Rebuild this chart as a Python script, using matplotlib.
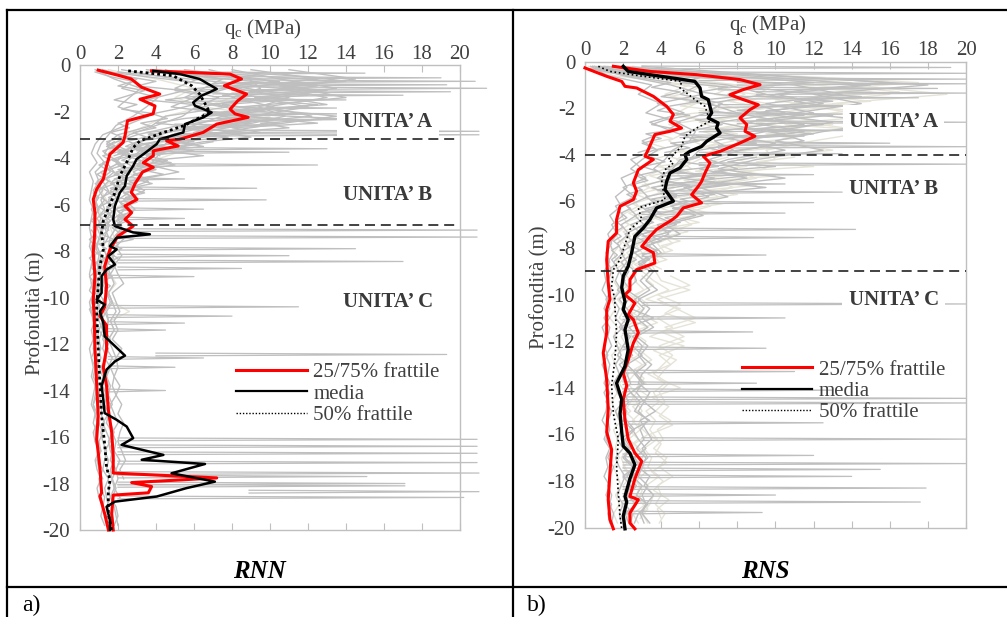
import numpy as np
import matplotlib
matplotlib.use("Agg")
import matplotlib.pyplot as plt
from matplotlib.lines import Line2D

plt.rcParams['font.family'] = ['Liberation Serif', 'DejaVu Serif']
plt.rcParams['mathtext.fontset'] = 'custom'
plt.rcParams['mathtext.rm'] = 'Liberation Serif'
plt.rcParams['axes.unicode_minus'] = False

# ---------------------------------------------------------------------------
# dati: profili statistici (profondità in m, qc in MPa)
# ---------------------------------------------------------------------------
# RNN
rnn_q25_z = [0.22, 0.46, 0.6, 0.96, 1.25, 1.47, 1.76, 2.1, 2.4, 3.05, 3.33, 3.83, 4.34, 4.9, 5.34,
             5.78, 6.35, 7.07, 8.07, 9.07, 10.1, 10.8, 12.2, 13.7, 15.1, 16.1, 17.3, 18.4, 18.55,
             19.3, 20.0]
rnn_q25_v = [0.96, 2.1, 2.7, 3.25, 4.2, 3.16, 3.95, 3.85, 2.5, 2.37, 2.27, 1.58, 1.4, 1.23, 0.88,
             0.7, 0.79, 0.79, 0.7, 0.79, 0.7, 0.75, 0.79, 0.88, 0.96, 0.88, 1.05, 1.14, 1.05,
             1.3, 1.5]
rnn_q75_z = [0.25, 0.39, 0.6, 0.89, 1.25, 1.54, 1.9, 2.1, 2.25, 2.54, 2.9, 3.19, 3.26, 3.48, 3.69,
             3.9, 4.2, 4.4, 4.6, 5.1, 5.48, 5.78, 6.06, 6.35, 6.64, 6.93, 7.36, 7.93, 8.65, 9.5,
             10.4, 10.8, 11.2, 12.2, 13.0, 13.8, 14.8, 15.8, 16.8, 17.55, 17.76, 17.96, 18.13,
             18.4, 18.5, 19.3, 20.0]
rnn_q75_v = [3.77, 7.9, 8.5, 7.6, 8.77, 8.3, 7.9, 8.16, 8.85, 7.2, 6.48, 5.26, 4.56, 5.17, 3.86,
             3.86, 3.33, 3.86, 3.3, 2.9, 2.7, 3.0, 2.37, 2.72, 2.37, 2.8, 2.0, 1.58, 1.3, 1.4,
             1.3, 1.05, 1.4, 1.4, 1.23, 1.4, 1.49, 1.67, 1.75, 1.75, 7.2, 2.72, 3.77,
             3.6, 1.75, 1.67, 1.75]
rnn_mean_z = [0.25, 0.39, 0.6, 1.03, 1.32, 1.61, 1.75, 2.04, 2.25, 2.54, 2.9, 3.19, 3.4, 3.84,
              4.05, 4.34, 4.77, 5.2, 5.49, 6.06, 6.64, 6.93, 7.2, 7.28, 7.43, 7.79, 7.93, 8.22,
              8.58, 8.8, 9.08, 9.8, 10.09, 10.3, 10.6, 11.1, 11.67, 12.5, 12.75, 13.1, 13.8,
              14.4, 14.97, 15.26, 15.55, 16.05, 16.34, 16.77, 16.98, 17.16, 17.56, 17.92, 18.2,
              18.56, 18.78, 19.0, 19.57, 20.0]
rnn_mean_v = [3.86, 5.26, 6.3, 7.2, 6.4, 5.96, 6.05, 6.93, 6.5, 5.53, 5.44, 4.2, 4.04, 3.33,
              2.98, 2.8, 2.46, 2.37, 2.1, 1.84, 1.75, 1.84, 2.8, 3.68, 1.93, 1.58, 1.93, 1.49,
              1.84, 1.4, 1.14, 1.14, 0.88, 1.3, 1.05, 1.23, 1.3, 2.37, 1.84, 1.4, 1.14,
              1.23, 1.3, 1.93, 2.46, 2.8, 2.19, 4.39, 3.25, 6.58, 4.82, 7.1, 5.6,
              4.04, 1.84, 1.4, 1.58, 1.58]
rnn_q50_z = [0.25, 0.46, 0.89, 1.25, 1.4, 2.04, 2.4, 2.6, 2.9, 3.26, 3.55, 4.05, 4.77, 5.49, 6.35,
             6.7, 7.2, 7.93, 8.65, 9.5, 10.37, 10.6, 12.2, 13.7, 15.1, 16.3, 17.3, 17.84, 18.4,
             19.3, 20.0]
rnn_q50_v = [2.54, 4.9, 5.88, 6.3, 6.4, 6.84, 5.96, 5.5, 4.4, 3.16, 2.8, 2.54, 2.1, 1.84, 1.4,
             1.23, 1.14, 1.23, 1.05, 0.96, 0.88, 0.88, 0.96, 1.05, 1.14, 1.3, 1.4, 1.58, 1.49,
             1.49, 1.67]

# RNS
rns_q25_z = [0.27, 0.63, 0.85, 1.06, 1.13, 1.49, 1.92, 2.27, 2.56, 2.85, 2.99, 3.13, 3.78, 4.06,
             4.2, 4.64, 5.2, 5.56, 5.92, 6.21, 6.78, 7.35, 7.71, 8.5, 9.5, 10.2, 10.64, 11.64,
             12.5, 13.65, 14.9, 15.9, 16.65, 17.65, 18.8, 19.65, 20.05]
rns_q25_v = [0.0, 1.14, 1.93, 2.1, 2.71, 3.59, 4.29, 4.64, 4.46, 5.07, 4.46, 3.67, 3.32, 3.15,
             3.59, 2.8, 2.54, 2.71, 2.54, 1.84, 1.66, 1.66, 1.22, 1.14, 1.22, 1.31, 1.14, 1.14,
             0.96, 1.14, 1.22, 1.14, 1.4, 1.31, 1.22, 1.31, 1.49]
rns_q75_z = [0.2, 0.42, 0.56, 0.77, 0.99, 1.2, 1.42, 1.63, 1.85, 2.06, 2.42, 2.7, 2.99, 3.2, 3.49,
             3.85, 4.06, 4.35, 4.78, 5.14, 5.35, 5.71, 6.06, 6.28, 6.64, 6.8, 7.2, 7.5, 7.93,
             8.2, 8.64, 8.93, 9.36, 9.8, 10.0, 10.36, 10.86, 11.07, 11.64, 12.07, 12.8, 13.36,
             13.9, 14.5, 15.36, 16.2, 16.8, 17.15, 17.9, 18.66, 18.8, 19.37, 19.8, 20.05]
rns_q75_v = [1.49, 3.41, 5.86, 8.14, 9.19, 8.31, 7.61, 8.31, 9.1, 8.66, 8.14, 8.49, 8.4, 8.92, 8.14,
             7.09, 6.21, 6.56, 6.3, 6.12, 5.95, 5.6, 6.12, 5.16, 4.81, 4.55, 3.76, 3.41, 2.98,
             3.59, 3.67, 2.71, 2.36, 2.36, 2.1, 2.62, 2.27, 2.54, 2.8, 2.54, 2.27, 2.01,
             2.19, 2.01, 2.1, 2.27, 2.62, 2.98, 2.62, 2.36, 2.8, 2.36, 2.36, 2.62]
rns_mean_z = [0.2, 0.42, 0.56, 0.77, 0.85, 1.13, 1.49, 1.63, 1.92, 2.2, 2.42, 2.63, 2.85, 3.06,
              3.42, 3.64, 3.85, 3.99, 4.2, 4.56, 4.78, 5.14, 5.49, 5.99, 6.28, 6.78, 7.14, 7.5,
              8.2, 8.78, 9.2, 9.7, 10.3, 10.64, 11.07, 11.5, 12.36, 13.07, 13.8, 14.5, 15.1,
              15.9, 16.5, 16.8, 17.3, 17.9, 18.66, 18.9, 19.5, 20.05]
rns_mean_v = [2.01, 2.27, 3.41, 5.16, 5.77, 6.04, 6.12, 6.47, 6.56, 6.65, 6.47, 6.99, 6.91, 7.09,
              6.39, 6.12, 5.51, 5.25, 5.34, 4.99, 4.46, 4.29, 4.2, 4.64, 3.76, 3.41, 3.06, 2.62,
              2.45, 2.27, 2.01, 1.93, 2.1, 2.01, 2.27, 2.1, 2.27, 2.1, 1.66, 1.93, 1.84,
              1.93, 2.01, 2.36, 2.62, 2.36, 2.1, 2.19, 2.01, 2.1]
rns_q50_z = [0.2, 0.42, 0.63, 0.85, 1.13, 1.35, 1.63, 1.92, 2.56, 2.85, 3.2, 3.64, 3.99, 4.2, 4.35,
             4.64, 5.06, 5.56, 5.92, 6.28, 6.78, 7.2, 8.07, 8.5, 8.93, 9.64, 10.2, 10.5, 11.64,
             12.8, 13.9, 15.1, 16.2, 17.4, 18.5, 19.5, 20.05]
rns_q50_v = [0.7, 1.31, 3.06, 5.07, 4.99, 5.34, 5.77, 6.3, 6.56, 5.86, 5.25, 5.07, 4.64, 4.37, 4.64,
             4.2, 4.02, 4.11, 4.2, 2.8, 2.98, 2.36, 2.01, 1.84, 1.49, 1.4, 1.57, 1.57, 1.66,
             1.57, 1.4, 1.49, 1.75, 1.66, 1.75, 1.84, 1.93]

# singole prove CPT, gruppo 1: qc ogni 0.4 m a partire da 0.2 m
rnn_gray = [
    [1.2, 3.0, 2.2, 4.1, 3.5, 2.8, 1.9, 1.5, 1.1, 0.9, 1.3, 0.8, 1.0, 0.7, 0.9, 0.6, 0.8,
     0.7, 0.9, 0.6, 0.8, 0.7, 0.9, 0.6, 0.7, 0.8, 0.6, 0.7, 0.9, 0.7, 0.8, 0.6, 0.8, 0.7, 0.9,
     0.8, 0.7, 0.8, 0.9, 0.7, 0.8, 1.0, 0.8, 0.9, 1.1, 0.9, 1.0, 1.2, 1.1, 1.3],
    [4.5, 6.2, 5.0, 7.3, 6.1, 5.4, 4.0, 2.6, 2.0, 1.6, 1.4, 1.8, 1.2, 1.5, 1.1, 1.3, 0.9,
     1.2, 1.0, 0.9, 1.1, 1.0, 0.8, 1.0, 0.9, 1.1, 0.9, 1.0, 1.2, 1.0, 1.1, 0.9, 1.0, 1.2, 1.1,
     1.0, 1.2, 1.1, 1.3, 1.1, 1.2, 1.4, 1.3, 1.2, 1.5, 1.3, 1.4, 1.5, 1.4, 1.6],
    [6.8, 8.9, 9.5, 8.0, 10.2, 7.5, 6.0, 4.2, 2.8, 2.3, 1.9, 2.5, 1.7, 2.0, 1.5, 1.8, 1.4,
     1.5, 1.3, 1.2, 1.4, 1.1, 1.3, 1.2, 1.0, 1.3, 1.1, 1.2, 1.0, 1.3, 1.2, 1.4, 1.1, 1.3, 1.2,
     1.4, 1.3, 1.5, 1.2, 1.4, 1.6, 1.3, 1.5, 1.4, 1.7, 1.5, 1.6, 1.4, 1.7, 1.8],
    [9.0, 12.5, 8.2, 11.0, 9.4, 10.8, 8.5, 5.5, 3.6, 3.0, 2.4, 3.3, 2.1, 2.7, 2.0, 2.4, 1.8,
     1.9, 1.6, 1.5, 1.8, 1.4, 1.6, 1.3, 1.5, 1.7, 1.4, 1.5, 1.3, 1.6, 1.4, 1.7, 1.5, 1.4, 1.6,
     1.5, 1.7, 1.4, 1.6, 1.8, 1.5, 1.7, 1.6, 1.9, 1.7, 1.8, 1.6, 1.9, 2.0, 1.8],
    [2.2, 5.0, 7.8, 6.0, 4.8, 8.8, 5.2, 3.0, 1.6, 1.3, 2.1, 1.1, 1.5, 1.0, 1.3, 0.9, 1.1,
     0.9, 1.1, 0.8, 1.0, 0.9, 1.1, 0.8, 1.0, 0.9, 1.1, 0.8, 1.0, 0.9, 1.0, 1.1, 0.9, 1.0, 0.8,
     1.0, 1.1, 0.9, 1.0, 1.2, 1.0, 1.1, 0.9, 1.2, 1.0, 1.1, 1.3, 1.2],
    [11.0, 14.5, 10.5, 13.0, 9.8, 12.2, 7.0, 4.8, 4.5, 3.8, 3.1, 5.2, 2.6, 3.4, 2.3, 2.9, 2.0,
     2.2, 1.8, 2.0, 1.7, 1.9, 1.6, 1.8, 1.5, 1.7, 1.9, 1.6, 1.8, 1.5, 1.7, 1.9, 1.6, 1.8, 1.7,
     1.9, 1.6, 1.8, 2.0, 1.7, 1.9, 1.8, 2.1, 1.9, 2.0, 1.8, 2.1],
    [3.5, 7.5, 6.5, 5.5, 7.8, 4.5, 3.8, 2.0, 1.4, 2.6, 1.2, 1.6, 0.9, 1.2, 0.8, 1.0, 0.7,
     0.8, 0.7, 0.9, 0.6, 0.8, 0.7, 0.9, 0.7, 0.6, 0.8, 0.7, 0.9, 0.8, 0.7, 0.9, 0.8, 1.0, 0.8,
     0.9, 0.7, 0.9, 1.0, 0.8, 0.9, 1.1, 0.9, 1.0, 1.2],
    [8.0, 10.5, 13.5, 9.2, 12.0, 9.0, 7.2, 3.6, 5.8, 4.2, 3.8, 2.8, 3.6, 2.2, 3.0, 1.9, 2.4,
     1.7, 2.4, 1.9, 2.2, 1.8, 2.0, 2.3, 1.7, 1.9, 2.1, 1.8, 2.0, 1.7, 2.2, 1.9, 2.0, 1.8, 2.1,
     1.9, 2.2, 2.0, 2.3, 2.1, 2.0, 2.2, 2.4, 2.1, 2.3],
    [0.8, 1.8, 3.2, 2.6, 2.0, 3.6, 2.4, 1.2, 0.8, 0.6, 0.9, 0.5, 0.7, 0.6, 0.5, 0.7, 0.6,
     0.5, 0.6, 0.5, 0.7, 0.6, 0.5, 0.6, 0.7, 0.5, 0.6, 0.8, 0.6, 0.7, 0.5, 0.6, 0.7, 0.6, 0.8,
     0.7, 0.6, 0.8, 0.7, 0.9, 0.8],
    [5.5, 9.5, 11.5, 14.0, 8.5, 13.5, 9.8, 6.5, 3.2, 2.0, 4.8, 1.9, 2.4, 1.6, 2.0, 1.4, 1.7,
     1.3, 1.5, 1.2, 1.4, 1.3, 1.5, 1.2, 1.4, 1.6, 1.3, 1.5, 1.4, 1.2, 1.5, 1.3, 1.6, 1.4, 1.5,
     1.3, 1.6, 1.5, 1.4, 1.7, 1.5, 1.6, 1.8, 1.6, 1.7, 1.9, 1.7, 1.8, 1.9, 2.0],
]
rnn_beige = [
    [4.0, 7.0, 9.0, 8.0, 6.5, 10.0, 8.0, 6.0, 4.0, 5.0, 3.5, 2.6, 3.0, 2.2, 2.6, 1.8, 2.0,
     1.6, 1.8, 1.5, 1.7, 1.4, 1.6, 1.9, 1.5, 1.7, 2.6, 1.6, 1.8, 1.5],
    [1.5, 4.0, 6.0, 5.0, 6.5, 4.5, 3.5, 2.4, 1.8, 1.5, 2.0, 1.3, 1.6, 1.1, 1.4, 1.0, 1.2,
     1.0, 1.2, 0.9, 1.1, 1.0, 1.2, 0.9, 1.1],
]
# gruppo 2: tratti a passo 0.2 m (unità A da 0.3 m, unità B da 3.3 m, unità C da 7.1 m)
rnn_fine_a = [
    [2.0, 4.5, 7.0, 9.5, 6.0, 8.5, 11.0, 7.5, 9.0, 6.5, 10.5, 8.0, 5.5, 7.0, 4.5, 6.0, 3.5, 4.8, 3.0],
    [6.0, 10.0, 13.5, 9.0, 12.0, 8.5, 11.5, 13.0, 9.5, 7.0, 10.0, 12.5, 8.0, 9.5, 6.5, 5.0, 6.5, 4.0, 3.5],
    [1.0, 2.5, 4.0, 3.0, 5.5, 4.5, 3.5, 6.0, 5.0, 3.8, 4.6, 3.2, 4.0, 2.8, 3.5, 2.4, 2.0, 2.6, 1.8],
    [3.5, 6.5, 9.0, 12.5, 10.0, 7.5, 9.5, 6.8, 8.2, 11.0, 7.2, 9.0, 6.0, 8.5, 5.5, 4.2, 3.6, 4.5, 2.9],
    [8.0, 12.0, 14.0, 10.5, 13.0, 11.0, 9.0, 12.5, 10.0, 8.5, 13.5, 9.5, 11.0, 7.5, 9.0, 6.5, 5.0, 3.8, 4.2],
    [1.5, 3.5, 5.5, 7.5, 5.0, 6.5, 4.5, 7.0, 6.0, 8.0, 5.5, 4.0, 6.5, 3.5, 4.5, 3.0, 3.8, 2.5, 2.2],
    [4.5, 7.5, 10.5, 8.0, 9.5, 12.0, 8.5, 7.0, 10.0, 6.5, 8.5, 10.5, 7.0, 6.0, 7.8, 5.2, 4.0, 3.2, 3.9],
    [0.8, 1.6, 2.8, 2.0, 3.4, 2.6, 1.8, 3.0, 2.2, 4.0, 2.8, 2.0, 2.6, 1.6, 2.2, 1.4, 1.9, 1.2, 1.5],
]
rnn_fine_b = [
    [3.0, 2.4, 3.6, 2.8, 2.2, 3.2, 2.0, 2.6, 1.8, 2.4, 1.6, 2.1, 1.5, 1.9, 1.4, 1.7, 1.3, 1.6, 1.2, 1.5],
    [5.0, 4.2, 6.0, 3.5, 4.6, 3.2, 4.0, 2.8, 3.6, 2.5, 3.2, 2.3, 2.8, 2.1, 2.6, 2.0, 2.4, 1.9, 2.2, 1.8],
    [1.8, 1.4, 2.2, 1.2, 1.6, 1.0, 1.4, 0.9, 1.3, 0.8, 1.1, 0.7, 1.0, 0.8, 0.9, 0.7, 0.8, 0.6, 0.9, 0.7],
    [7.0, 5.5, 4.5, 6.5, 3.8, 5.0, 3.2, 4.4, 2.9, 3.8, 2.6, 3.4, 2.4, 3.0, 2.2, 2.8, 2.0, 2.5, 1.9, 2.2],
    [2.6, 3.2, 2.0, 2.7, 1.7, 2.3, 1.5, 2.0, 1.3, 1.8, 1.2, 1.6, 1.1, 1.5, 1.0, 1.4, 1.0, 1.3, 0.9, 1.2],
    [4.0, 3.0, 3.8, 2.4, 3.2, 2.0, 2.8, 1.8, 2.5, 1.6, 2.2, 1.5, 2.0, 1.4, 1.8, 1.3, 1.7, 1.2, 1.6, 1.1],
]
rnn_fine_c = [
    [1.5, 1.2, 1.8, 1.0, 1.4, 0.9, 1.3, 0.8, 1.2, 0.9, 1.1, 0.8, 1.0, 0.7, 0.9, 0.8, 1.0, 0.7, 0.9, 0.8],
    [2.4, 1.9, 2.8, 1.6, 2.2, 1.5, 2.0, 1.4, 1.8, 1.3, 1.7, 1.2, 1.6, 1.3, 1.5, 1.2, 1.4, 1.1, 1.3, 1.2],
    [0.6, 0.8, 0.5, 0.7, 0.6, 0.9, 0.5, 0.7, 0.6, 0.8, 0.5, 0.7, 0.6, 0.5, 0.7, 0.6, 0.8, 0.5, 0.6, 0.7],
]
# picchi isolati: profondità, qc di picco, qc di base
rnn_spike_z = [0.35, 0.55, 0.7, 0.85, 1.0, 1.15, 1.3, 1.5, 1.85, 2.1, 2.35, 2.6, 2.85, 3.0,
               3.6, 3.75, 4.3, 4.9, 5.3, 5.8, 6.2, 6.6, 7.1, 7.4, 7.9, 8.2, 8.45, 8.75, 9.1,
               10.4, 10.8, 11.1, 11.4, 12.45, 12.6, 13.0, 14.0, 16.1, 16.4, 16.7, 17.1, 17.55,
               17.7, 18.0, 18.1, 18.35, 18.6]
rnn_spike_q = [15.0, 19.0, 20.8, 19.3, 21.4, 19.5, 17.0, 14.0, 13.5, 14.0, 13.5, 10.5, 21.0, 21.0,
               13.0, 11.0, 12.5, 5.5, 9.3, 9.8, 6.5, 5.5, 20.9, 20.9, 14.5, 11.0, 17.0, 8.5, 6.0,
               11.5, 8.0, 5.5, 4.5, 19.3, 6.5, 5.0, 4.5, 20.9, 20.9, 20.9, 20.9, 21.0,
               15.1, 17.1, 17.1, 21.0, 20.2]
rnn_spike_b = [5, 6, 8, 7, 9, 8, 7, 6, 8, 7, 6, 5, 6, 5,
               3, 3, 3, 2, 2, 2, 2, 2, 2, 2, 2, 2, 2, 2, 1.5,
               1.5, 1.5, 1.5, 1.5, 4, 1.5, 1.5, 1.5, 2, 2, 2, 2, 2,
               2, 2, 2, 8.9, 2]

rns_gray = [
    [0.5, 2.5, 7.5, 9.5, 6.5, 8.0, 10.5, 7.0, 9.0, 6.0, 5.5, 4.2, 6.8, 3.5, 4.8, 2.9, 3.6,
     2.4, 3.0, 2.2, 2.6, 1.9, 2.3, 2.0, 2.4, 1.8, 2.2, 2.6, 1.9, 2.3, 2.0, 2.5, 1.8, 2.2, 2.4,
     2.0, 2.3, 1.9, 2.2, 2.6, 2.1, 2.4, 2.0, 2.5, 2.2, 2.7, 2.3, 2.1, 2.5, 2.4],
    [1.5, 5.0, 11.0, 13.5, 9.5, 12.0, 8.5, 11.5, 8.0, 10.5, 7.5, 6.0, 8.5, 5.2, 6.5, 4.5, 5.8,
     3.8, 4.4, 3.2, 3.8, 2.8, 3.4, 2.9, 3.4, 2.6, 3.1, 2.7, 3.3, 2.5, 3.0, 2.8, 3.2, 2.6, 3.0,
     2.7, 3.1, 2.8, 3.3, 2.9, 3.1, 2.7, 3.2, 3.0, 2.8, 3.3, 3.0, 3.2, 2.9, 3.1],
    [0.3, 1.2, 3.5, 2.8, 4.0, 3.2, 5.0, 4.2, 3.0, 3.8, 3.0, 2.4, 3.2, 2.0, 2.6, 1.6, 2.0,
     1.4, 1.7, 1.3, 1.5, 1.2, 1.4, 1.2, 1.4, 1.1, 1.3, 1.0, 1.3, 1.2, 1.4, 1.1, 1.3, 1.2, 1.0,
     1.3, 1.1, 1.4, 1.2, 1.3, 1.1, 1.4, 1.2, 1.5, 1.3, 1.2, 1.4, 1.3, 1.5, 1.4],
    [2.0, 8.5, 15.0, 10.0, 12.5, 9.0, 13.0, 9.8, 11.5, 8.2, 6.5, 8.0, 5.0, 9.5, 4.2, 5.5, 3.6,
     4.8, 3.0, 3.6, 2.6, 3.2, 2.5, 2.7, 2.2, 2.9, 2.4, 3.6, 2.3, 2.8, 2.5, 3.0, 2.2, 2.7, 3.1,
     2.4, 2.9, 2.6, 3.4, 2.5, 2.8, 3.2, 2.6, 2.9, 2.5, 3.0, 2.7, 3.3, 2.8, 2.6],
    [0.8, 3.2, 6.0, 5.0, 7.2, 6.4, 4.8, 5.8, 5.5, 4.6, 4.2, 3.6, 4.5, 2.8, 3.3, 2.2, 2.7,
     1.9, 2.3, 1.7, 2.0, 1.5, 1.8, 1.6, 1.9, 1.5, 1.8, 1.6, 2.0, 1.5, 1.7, 1.9, 1.6, 1.8, 1.5,
     1.7, 2.0, 1.6, 1.8, 1.9, 1.7, 2.0, 1.6, 1.8, 2.1, 1.9, 1.7, 2.0, 1.8, 1.9],
    [1.0, 6.5, 9.0, 7.5, 8.8, 10.5, 7.0, 9.5, 6.8, 7.8, 5.0, 4.6, 3.8, 5.6, 3.2, 3.9, 2.6,
     3.1, 2.1, 2.6, 1.9, 2.2, 1.8, 2.1, 1.7, 2.3, 1.9, 2.2, 1.8, 2.4, 2.0, 1.7, 2.3, 1.9, 2.1,
     2.4, 1.8, 2.2, 2.0, 2.5, 1.9, 2.3, 2.1, 2.6, 2.0, 2.4, 2.2, 2.7, 2.1, 2.3],
    [0.4, 2.0, 4.5, 6.2, 3.8, 5.2, 3.4, 4.6, 6.0, 3.6, 2.4, 3.0, 1.9, 2.2, 1.6, 1.9, 1.3,
     1.6, 1.2, 1.4, 1.1, 1.3, 1.0, 1.1, 0.9, 1.2, 1.0, 1.3, 0.9, 1.1, 1.0, 1.2, 0.9, 1.1, 1.3,
     1.0, 1.2, 1.1, 0.9, 1.2, 1.0, 1.3, 1.1, 1.2, 1.0, 1.3, 1.1, 1.4, 1.2, 1.3],
    [3.0, 10.0, 18.0, 12.0, 14.5, 11.0, 16.0, 12.5, 10.0, 12.5, 9.0, 7.0, 10.5, 6.0, 7.5, 5.0,
     6.2, 4.2, 5.0, 3.5, 4.0, 3.0, 3.6, 3.2, 3.8, 2.8, 3.4, 3.0, 3.6, 2.7, 3.3, 2.9, 3.5, 3.0,
     2.8, 3.4, 3.1, 3.7, 2.9, 3.2, 3.5, 3.0, 3.3, 2.8, 3.4, 3.1, 3.6, 3.2, 3.0, 3.4],
]
rns_beige = [
    [0.6, 4.0, 12.0, 16.0, 11.0, 14.0, 9.0, 12.0, 10.0, 13.0, 8.0, 9.5, 6.5, 7.8, 5.5, 6.6,
     4.8, 5.6, 4.0, 4.6, 3.4, 3.9, 3.0, 3.6, 4.4, 3.2, 5.0, 3.8, 4.6, 3.4, 5.2, 3.9, 4.5, 3.3,
     4.2, 3.6, 3.9, 3.2, 3.7, 3.4, 3.8, 3.1, 3.5, 3.3, 3.9, 3.2, 3.6, 3.4, 3.0, 3.3],
    [0.9, 3.8, 8.0, 6.8, 9.6, 7.4, 8.6, 6.2, 7.8, 5.6, 4.8, 5.6, 3.9, 4.7, 3.3, 4.0, 2.8,
     3.4, 2.5, 2.9, 2.2, 2.6, 2.0, 2.4, 2.0, 2.7, 2.2, 2.9, 2.1, 2.5, 2.3, 2.8, 2.0, 2.6, 2.2,
     2.7, 2.4, 2.1, 2.6, 2.3, 2.8, 2.2, 2.5, 2.0, 2.4, 2.7, 2.3, 2.6, 2.2, 2.5],
    [0.2, 1.5, 5.5, 4.2, 5.8, 4.8, 6.6, 5.4, 4.4, 5.2, 3.6, 4.2, 2.9, 3.4, 2.4, 2.8, 1.9,
     2.3, 1.6, 1.9, 1.5, 1.7, 1.4, 1.5, 1.8, 1.4, 1.6, 1.3, 1.7, 1.5, 1.9, 1.4, 1.6, 1.8, 1.5,
     1.7, 1.4, 1.6, 1.9, 1.5, 1.7, 1.6, 1.8, 1.5, 1.7, 1.9, 1.6, 1.8, 1.5, 1.7],
    [2.5, 7.0, 14.0, 19.0, 13.0, 17.0, 11.5, 15.0, 12.0, 9.5, 10.0, 7.5, 9.0, 6.2, 7.0, 5.4,
     5.8, 4.4, 4.9, 3.8, 4.2, 3.4, 3.7, 4.0, 5.5, 3.8, 4.8, 5.8, 4.2, 5.2, 3.9, 4.6, 4.1, 3.6,
     4.4, 3.9, 4.2, 3.7, 4.5, 3.8, 4.1, 3.6, 4.3, 3.9, 4.6, 3.8, 4.0, 3.7, 4.2, 3.9],
    [0.4, 2.6, 6.8, 8.4, 7.0, 8.8, 6.0, 7.6, 5.6, 6.8, 5.6, 4.4, 5.2, 3.6, 4.2, 3.0, 3.5,
     2.5, 2.9, 2.1, 2.5, 1.9, 2.2, 1.9, 2.3, 1.7, 2.1, 1.8, 2.4, 1.9, 2.2, 1.7, 2.0, 2.3, 1.8,
     2.1, 1.9, 2.4, 1.8, 2.2, 2.0, 2.3, 1.9, 2.1, 2.4, 2.0, 2.2, 1.9, 2.3, 2.1],
    [1.2, 5.5, 10.0, 9.0, 11.0, 8.0, 10.0, 7.0, 8.8, 7.2, 6.0, 5.0, 6.4, 4.2, 5.0, 3.6, 4.0,
     3.0, 3.4, 2.6, 3.0, 2.3, 2.7, 2.6, 3.1, 2.4, 2.9, 2.2, 3.3, 2.5, 2.8, 2.3, 3.0, 2.6, 3.2,
     2.4, 2.7, 3.0, 2.5, 2.9, 2.3, 2.8, 2.6, 3.1, 2.4, 2.9, 2.7, 3.2, 2.5, 2.8],
]
# gruppo 2 RNS: unità A (passo 0.2 m da 0.3 m), unità B (passo 0.2 m da 4.1 m), unità C (passo 0.4 m da 9.2 m)
rns_fine_a_gray = [
    [1.0, 4.0, 9.0, 12.0, 8.5, 11.0, 9.5, 13.0, 10.0, 8.0, 11.5, 9.0, 12.5, 8.5, 10.5, 7.5, 9.0, 6.5, 7.5],
    [0.5, 2.5, 6.0, 5.0, 7.5, 6.0, 8.0, 5.5, 7.0, 6.5, 8.5, 5.8, 7.2, 6.0, 5.0, 6.8, 4.5, 5.5, 4.2],
    [2.0, 7.0, 12.0, 16.0, 13.0, 10.5, 14.5, 11.0, 12.5, 9.5, 13.0, 10.0, 11.5, 9.0, 12.0, 8.5, 10.0, 9.0, 7.0],
    [0.3, 1.5, 3.0, 4.5, 3.5, 5.0, 4.0, 6.0, 4.5, 3.8, 5.5, 4.2, 3.5, 4.8, 3.2, 4.0, 3.0, 3.6, 2.8],
]
rns_fine_a_beige = [
    [1.0, 5.0, 10.0, 14.0, 11.0, 15.0, 12.0, 10.0, 13.5, 11.0, 9.0, 12.0, 10.5, 14.0, 9.5, 11.0, 8.0, 10.0, 7.5],
    [0.5, 3.0, 7.0, 9.0, 6.5, 8.0, 10.0, 7.5, 9.0, 6.0, 8.5, 7.0, 9.5, 6.5, 8.0, 5.5, 7.0, 6.0, 5.0],
    [2.5, 8.0, 13.0, 17.5, 14.0, 16.5, 12.5, 15.0, 11.5, 14.0, 12.0, 10.0, 13.0, 9.5, 11.0, 8.5, 10.0, 9.0, 8.0],
    [0.4, 2.0, 5.0, 4.0, 6.0, 5.5, 4.5, 6.5, 5.0, 7.0, 4.8, 6.0, 4.4, 5.2, 3.8, 4.6, 3.4, 4.2, 3.6],
]
rns_fine_b_gray = [
    [6.0, 5.0, 7.0, 4.5, 6.2, 4.0, 5.5, 3.8, 4.8, 3.5, 4.4, 3.2, 4.0, 3.0, 3.6, 2.8, 3.4, 2.6, 3.1, 2.4,
     2.9, 2.3, 2.7, 2.2, 2.5],
    [3.5, 4.2, 3.0, 3.8, 2.7, 3.3, 2.4, 3.0, 2.2, 2.7, 2.0, 2.4, 1.9, 2.2, 1.7, 2.0, 1.6, 1.9, 1.5, 1.8,
     1.4, 1.7, 1.4, 1.6, 1.3],
    [9.0, 7.5, 10.0, 6.8, 8.5, 6.0, 7.5, 5.5, 6.8, 5.0, 6.0, 4.6, 5.5, 4.2, 5.0, 3.8, 4.5, 3.5, 4.0, 3.2,
     3.8, 3.0, 3.4, 2.8, 3.2],
]
rns_fine_b_beige = [
    [7.5, 6.5, 8.5, 5.8, 7.2, 5.2, 6.5, 4.8, 5.8, 4.3, 5.2, 4.0, 4.8, 3.6, 4.3, 3.4, 4.0, 3.1, 3.7, 2.9,
     3.4, 2.7, 3.2, 2.6, 3.0],
    [4.5, 5.5, 3.8, 4.8, 3.4, 4.2, 3.0, 3.7, 2.7, 3.3, 2.5, 3.0, 2.3, 2.8, 2.1, 2.6, 2.0, 2.4, 1.9, 2.2,
     1.8, 2.1, 1.7, 2.0, 1.6],
    [11.0, 9.0, 12.0, 8.0, 10.0, 7.0, 9.0, 6.5, 8.0, 6.0, 7.2, 5.5, 6.5, 5.0, 6.0, 4.6, 5.4, 4.2, 5.0, 4.0,
     4.6, 3.7, 4.3, 3.5, 4.0],
]
rns_fine_c_beige = [
    [4.5, 5.5, 3.8, 5.0, 4.2, 5.8, 4.0, 5.2, 3.6, 4.8, 4.2, 3.8, 5.0, 3.5, 4.4, 3.9, 4.6, 3.4, 4.0, 3.7,
     4.3, 3.5, 4.1, 3.6, 4.4, 3.8, 4.0],
    [3.0, 3.6, 2.6, 3.3, 2.8, 3.8, 2.5, 3.2, 2.9, 3.5, 2.6, 3.1, 2.7, 3.4, 2.5, 3.0, 2.8, 3.3, 2.6, 3.1,
     2.9, 3.2, 2.7, 3.0, 2.8, 3.3, 2.9],
]
rns_spike_z = [0.25, 0.5, 0.75, 0.95, 1.15, 1.35, 1.55, 1.9, 2.25, 2.6, 2.95, 3.2, 3.5, 3.65,
               3.95, 4.4, 4.85, 5.25, 5.6, 6.05, 6.5, 7.2, 7.55, 8.3, 10.4, 11.0, 11.6, 12.3,
               13.3, 13.8, 14.1, 14.45, 14.65, 15.5, 16.2, 16.9, 17.25, 17.5, 17.8, 18.3, 18.6,
               18.9, 19.35]
rns_spike_q = [19.2, 20.0, 20.0, 20.0, 18.5, 20.0, 17.5, 15.5, 13.5, 20.0, 14.5, 11.5, 16.0, 20.0,
               13.5, 20.0, 12.0, 10.5, 13.5, 12.0, 10.5, 14.2, 12.0, 9.5, 20.0, 10.5, 8.8, 9.5,
               11.0, 9.0, 13.0, 20.0, 20.0, 12.5, 20.0, 12.0, 20.0, 15.5, 14.0, 17.9, 10.0,
               17.6, 9.3]
rns_spike_b = [3, 5, 6, 8, 7, 9, 8, 7, 6, 8, 6, 5, 8, 7,
               6, 6, 4, 4, 4, 4, 3, 3, 3, 3, 3, 2, 2, 2,
               2, 2, 2, 2, 2, 2, 3, 2, 2, 2, 2, 2, 2,
               2, 2]

# confini delle unità (m) e posizione delle etichette
rnn_bounds = [3.2, 6.9]
rns_bounds = [4.0, 9.0]
unit_names = ['UNITA\u2019 A', 'UNITA\u2019 B', 'UNITA\u2019 C']
rnn_label_z = [2.45, 5.59, 10.2]
rns_label_z = [2.57, 5.48, 10.25]

xticks = list(range(0, 21, 2))
yticks = list(range(0, -21, -2))

GRAY = '#bfbfbf'
BEIGE = '#e6e4d8'
TXT = '#404040'


def draw_traces(ax, traces, z0, step, color, clip, zo):
    for tr in traces:
        z = z0 + step * np.arange(len(tr))
        ax.plot(tr, -z, color=color, lw=1.0, clip_on=clip, zorder=zo)


def draw_panel(ax, groups, spk_z, spk_q, spk_b, stats, bounds, label_z,
               clip, dot_lw, dot_ls, mean_lw):
    for traces, z0, step, color in groups:
        draw_traces(ax, traces, z0, step, color, clip, 1 if color == BEIGE else 2)
    h = 0.06
    for z, q, b in zip(spk_z, spk_q, spk_b):
        ax.plot([b, q, b], [-(z - h), -z, -(z + h)], color=GRAY, lw=0.9,
                clip_on=clip, zorder=2)

    (q25z, q25v), (q75z, q75v), (mz, mv), (q50z, q50v) = stats
    ax.plot(q25v, -np.array(q25z), color='red', lw=2.2, zorder=5, clip_on=False)
    ax.plot(q75v, -np.array(q75z), color='red', lw=2.2, zorder=5, clip_on=False)
    ax.plot(mv, -np.array(mz), color='black', lw=mean_lw, zorder=6, clip_on=False)
    ax.plot(q50v, -np.array(q50z), color='black', lw=dot_lw, ls=dot_ls, zorder=6,
            clip_on=False)

    for b in bounds:
        ax.plot([0, 20], [-b, -b], color='#222222', lw=1.2, ls=(0, (6, 3.5)), zorder=7)

    for name, z in zip(unit_names, label_z):
        ax.text(16.2, -z, name, ha='center', va='center', fontsize=15,
                fontweight='bold', color='#3a3a3a', zorder=8,
                bbox=dict(boxstyle='square,pad=0.3', fc='white', ec='none'))

    ax.set_xlim(0, 20)
    ax.set_ylim(-20, 0)
    ax.set_xticks(xticks)
    ax.set_yticks(yticks)
    ax.xaxis.tick_top()
    ax.tick_params(axis='x', which='both', direction='in', length=5, top=True,
                   bottom=True, color=GRAY, labelsize=15, labelcolor=TXT, pad=1)
    ax.tick_params(axis='y', length=0, labelsize=15, labelcolor=TXT, pad=7)
    for sp in ax.spines.values():
        sp.set_color(GRAY)
        sp.set_linewidth(1.0)
    ax.set_ylabel('Profondità (m)', fontsize=15, color=TXT)
    ax.text(0.48, 1.078, 'q$_\\mathrm{c}$ (MPa)', transform=ax.transAxes,
            ha='center', va='center', fontsize=15, color=TXT)

    handles = [Line2D([], [], color='red', lw=2.2),
               Line2D([], [], color='black', lw=1.6),
               Line2D([], [], color='black', lw=1.0, ls=(0, (1, 1.3)))]
    ax.legend(handles, ['25/75% frattile', 'media', '50% frattile'],
              loc='center left', bbox_to_anchor=(0.411, 0.293), frameon=False,
              fontsize=15, handlelength=3.4, handletextpad=0.3, labelspacing=0.08,
              borderpad=0, borderaxespad=0, labelcolor=TXT)


fig = plt.figure(figsize=(10.07, 6.17), dpi=100)
fig.patch.set_facecolor('white')

ax1 = fig.add_axes([0.0794, 0.141, 0.3774, 0.7536])
ax2 = fig.add_axes([0.5809, 0.1448, 0.3784, 0.7553])

rnn_groups = [(rnn_beige, 0.2, 0.4, BEIGE), (rnn_gray, 0.2, 0.4, GRAY),
              (rnn_fine_a, 0.3, 0.2, GRAY), (rnn_fine_b, 3.3, 0.2, GRAY),
              (rnn_fine_c, 7.1, 0.2, GRAY)]
rns_groups = [(rns_beige, 0.2, 0.4, BEIGE), (rns_fine_a_beige, 0.3, 0.2, BEIGE),
              (rns_fine_b_beige, 4.1, 0.2, BEIGE), (rns_fine_c_beige, 9.2, 0.4, BEIGE),
              (rns_gray, 0.2, 0.4, GRAY), (rns_fine_a_gray, 0.3, 0.2, GRAY),
              (rns_fine_b_gray, 4.1, 0.2, GRAY)]

draw_panel(ax1, rnn_groups, rnn_spike_z, rnn_spike_q, rnn_spike_b,
           [(rnn_q25_z, rnn_q25_v), (rnn_q75_z, rnn_q75_v), (rnn_mean_z, rnn_mean_v),
            (rnn_q50_z, rnn_q50_v)],
           rnn_bounds, rnn_label_z, False, 2.0, (0, (1, 1.1)), 1.8)
draw_panel(ax2, rns_groups, rns_spike_z, rns_spike_q, rns_spike_b,
           [(rns_q25_z, rns_q25_v), (rns_q75_z, rns_q75_v), (rns_mean_z, rns_mean_v),
            (rns_q50_z, rns_q50_v)],
           rns_bounds, rns_label_z, True, 1.2, (0, (1, 1.6)), 2.4)

ax1.yaxis.set_label_coords(-0.092, 0.467)
ax2.yaxis.set_label_coords(-0.092, 0.5165)

# titoli dei pannelli e lettere
fig.text(0.258, 0.073, 'RNN', ha='center', va='center', fontsize=18,
         fontweight='bold', fontstyle='italic')
fig.text(0.76, 0.073, 'RNS', ha='center', va='center', fontsize=18,
         fontweight='bold', fontstyle='italic')
fig.text(0.022, 0.019, 'a)', ha='left', va='center', fontsize=17)
fig.text(0.523, 0.019, 'b)', ha='left', va='center', fontsize=17)

# griglia della tabella
W, H = 1007.0, 617.0
def tline(x0, y0, x1, y1):
    fig.add_artist(Line2D([x0 / W, x1 / W], [1 - y0 / H, 1 - y1 / H],
                          color='black', lw=1.6, transform=fig.transFigure))

tline(7, 10, 1007, 10)
tline(7, 10, 7, 617)
tline(513, 10, 513, 617)
tline(7, 587, 1007, 587)

fig.savefig('out.png', dpi=100, facecolor='white')
